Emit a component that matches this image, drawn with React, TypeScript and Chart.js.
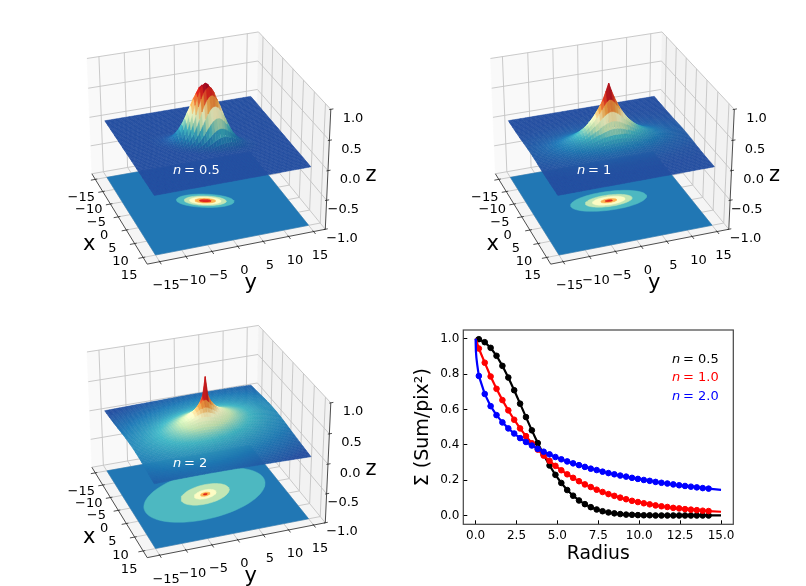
import { useEffect, useRef } from "react";
import { Chart, registerables } from "chart.js";

Chart.register(...registerables);

const FONT = "'DejaVu Sans'";

// radial profiles
const RADIUS = [0.2, 0.56, 0.92, 1.28, 1.64, 2.0, 2.36, 2.72, 3.08, 3.44, 3.8, 4.16, 4.52, 4.88, 5.24, 5.6, 5.96, 6.32, 6.68, 7.04, 7.4, 7.76, 8.12, 8.48, 8.84, 9.2, 9.56, 9.92, 10.28, 10.64, 11.0, 11.36, 11.72, 12.08, 12.44, 12.8, 13.16, 13.52, 13.88, 14.24];
const SIGMA_05 = [0.998, 0.981, 0.949, 0.904, 0.847, 0.781, 0.709, 0.633, 0.557, 0.482, 0.41, 0.344, 0.283, 0.23, 0.184, 0.144, 0.112, 0.085, 0.064, 0.047, 0.034, 0.024, 0.017, 0.012, 0.008, 0.005, 0.004, 0.002, 0.001, 0.001, 0, 0, 0, 0, 0, 0, 0, 0, 0, 0];
const SIGMA_10 = [0.945, 0.865, 0.787, 0.717, 0.653, 0.595, 0.542, 0.493, 0.449, 0.409, 0.373, 0.339, 0.309, 0.281, 0.256, 0.233, 0.213, 0.194, 0.176, 0.161, 0.146, 0.133, 0.121, 0.111, 0.101, 0.092, 0.083, 0.076, 0.069, 0.063, 0.057, 0.052, 0.048, 0.043, 0.04, 0.036, 0.033, 0.03, 0.027, 0.025];
const SIGMA_20 = [0.79, 0.688, 0.619, 0.568, 0.527, 0.493, 0.464, 0.438, 0.416, 0.396, 0.377, 0.361, 0.346, 0.331, 0.318, 0.306, 0.295, 0.285, 0.275, 0.265, 0.257, 0.248, 0.24, 0.233, 0.226, 0.22, 0.213, 0.207, 0.201, 0.196, 0.19, 0.185, 0.181, 0.176, 0.171, 0.167, 0.163, 0.159, 0.155, 0.152];
// the curves start before the first marker and run on past the last one
const CORE_RADIUS = [0, 0.02, 0.05, 0.1];
const CORE_05 = [1, 1, 1, 0.999];
const CORE_10 = [1, 0.995, 0.987, 0.974];
const CORE_20 = [1, 0.93, 0.894, 0.854];
const END_RADIUS = 15;
const END_05 = 0;
const END_10 = 0.021;
const END_20 = 0.145;
// surface corners lie outside the plotted radius range, estimated from the corner colours
const TAIL_RADIUS = [20, 25, 32];
const TAIL_05 = [0, 0, 0];
const TAIL_10 = [0.006, 0.002, 0.001];
const TAIL_20 = [0.107, 0.082, 0.06];

const PROFILE_COLORS = ["#000000", "#ff0000", "#0000ff"];
const LEGEND_TEXT = ["= 0.5", "= 1.0", "= 2.0"];
const LEGEND_Y = [0.88, 0.78, 0.675];
const LEGEND_X = 12.0;
const RADIUS_TICKS = [0, 2.5, 5, 7.5, 10, 12.5, 15];
const SIGMA_TICKS = [0, 0.2, 0.4, 0.6, 0.8, 1];

// 3d panels
const XY_TICKS = [-15, -10, -5, 0, 5, 10, 15];
const Z_TICKS = [-1, -0.5, 0, 0.5, 1];
const PANEL_TEXT = ["= 0.5", "= 1", "= 2"];
const SURFACE_Q = [0.45, 0.455, 0.62];
const SURFACE_PA = [-24, -3, 17];
const SURFACE_VMIN = [0, 0.002, 0.07];
const SURFACE_VMAX = [1, 0.93, 0.85];
const SURFACE_GAMMA = [1, 0.85, 0.75];
const RING_RADII = [
  [5.5, 4.0, 3.0, 1.95, 1.1],
  [7.5, 4.6, 3.2, 1.55, 0.7],
  [13.1, 5.2, 2.35, 1.0, 0.4],
];
const RING_COLORS = ["#4db8c1", "#c3e6b4", "#fdfcc4", "#fdb14f", "#e0271f"];
const FLOOR_COLOR = "#2177b4";
const COLOR_STOPS = [0, 0.12, 0.28, 0.42, 0.55, 0.7, 0.87, 1];
const COLOR_RGB = [
  [37, 79, 160],
  [31, 120, 180],
  [65, 182, 196],
  [199, 233, 180],
  [255, 255, 204],
  [254, 170, 70],
  [232, 38, 31],
  [150, 0, 38],
];

const PANEL_LEFT = [20, 423, 20];
const PANEL_TOP = [0, 0, 293];
const PANEL_NUDGE_X = [0, 0.5, 0];
const PANEL_NUDGE_Y = [0, 0, 0.5];
const PANEL_W = 385;
const PANEL_H = 293;
const ORIGIN_X = 185.2;
const ORIGIN_Y = 143.2;
const SCALE_X = 162.7;
const SCALE_Y = 156;

const LIM = 17.35;
const FLOOR_Z = -1;
const HALF_XY = 0.5714;
const HALF_Z = 0.435;
const DIST = 10;
const EL = (30 * Math.PI) / 180;
const AZ = (-20 * Math.PI) / 180;
const GRID_STEPS = 60;
const SURFACE_HALF = 15;

const n3 = [Math.cos(EL) * Math.cos(AZ), Math.cos(EL) * Math.sin(AZ), Math.sin(EL)];
const u3 = [-Math.sin(AZ), Math.cos(AZ), 0];
const v3 = [-Math.sin(EL) * Math.cos(AZ), -Math.sin(EL) * Math.sin(AZ), Math.cos(EL)];

function project(x: number, y: number, z: number) {
  const c = [(x / LIM) * HALF_XY, (y / LIM) * HALF_XY, z * HALF_Z];
  const depth = c[0] * n3[0] + c[1] * n3[1] + c[2] * n3[2];
  const f = DIST / (DIST - depth);
  return {
    x: f * (c[0] * u3[0] + c[1] * u3[1]),
    y: f * (c[0] * v3[0] + c[1] * v3[1] + c[2] * v3[2]),
    depth,
  };
}

function sigmaAt(rs: number[], vals: number[], r: number) {
  if (r >= rs[rs.length - 1]) return vals[vals.length - 1];
  let i = 0;
  while (rs[i + 1] < r) i++;
  const t = (r - rs[i]) / (rs[i + 1] - rs[i]);
  return vals[i] + t * (vals[i + 1] - vals[i]);
}

function surfaceColor(p: number, z: number, light: number) {
  const raw = Math.max(0, Math.min(1, (z - SURFACE_VMIN[p]) / (SURFACE_VMAX[p] - SURFACE_VMIN[p])));
  const t = Math.pow(raw, SURFACE_GAMMA[p]);
  let i = 0;
  while (i < COLOR_STOPS.length - 2 && COLOR_STOPS[i + 1] < t) i++;
  const k = (t - COLOR_STOPS[i]) / (COLOR_STOPS[i + 1] - COLOR_STOPS[i]);
  const rgb = COLOR_RGB[i].map((c, j) => Math.min(255, Math.round((c + k * (COLOR_RGB[i + 1][j] - c)) * light)));
  return `rgb(${rgb[0]},${rgb[1]},${rgb[2]})`;
}

function polygon(points: { x: number; y: number }[], color: string) {
  const data = [...points, points[0]].map((q) => ({ x: q.x, y: q.y }));
  return { data, showLine: true, fill: "shape", backgroundColor: color, borderColor: color, borderWidth: 0.5, pointRadius: 0 };
}

function segment(a: { x: number; y: number }, b: { x: number; y: number }, color: string, width: number) {
  return { data: [{ x: a.x, y: a.y }, { x: b.x, y: b.y }], showLine: true, fill: false, borderColor: color, borderWidth: width, pointRadius: 0 };
}

function buildPanel(p: number, rs: number[], vals: number[]) {
  const out: any[] = [];
  // back walls and floor of the box
  out.push(polygon([project(-LIM, -LIM, -1), project(-LIM, LIM, -1), project(-LIM, LIM, 1), project(-LIM, -LIM, 1)], "#f9f9f9"));
  out.push(polygon([project(-LIM, LIM, -1), project(LIM, LIM, -1), project(LIM, LIM, 1), project(-LIM, LIM, 1)], "#f2f2f2"));
  out.push(polygon([project(-LIM, -LIM, -1), project(LIM, -LIM, -1), project(LIM, LIM, -1), project(-LIM, LIM, -1)], "#f5f5f5"));

  const grid = "#c4c4c4";
  for (const t of XY_TICKS) {
    out.push(segment(project(t, -LIM, -1), project(t, LIM, -1), grid, 0.9));
    out.push(segment(project(t, LIM, -1), project(t, LIM, 1), grid, 0.9));
    out.push(segment(project(-LIM, t, -1), project(LIM, t, -1), grid, 0.9));
    out.push(segment(project(-LIM, t, -1), project(-LIM, t, 1), grid, 0.9));
  }
  for (const t of Z_TICKS) {
    out.push(segment(project(-LIM, -LIM, t), project(-LIM, LIM, t), grid, 0.9));
    out.push(segment(project(-LIM, LIM, t), project(LIM, LIM, t), grid, 0.9));
  }

  // axis lines and tick marks
  const ink = "#222222";
  out.push(segment(project(-LIM, -LIM, -1), project(LIM, -LIM, -1), ink, 0.8));
  out.push(segment(project(LIM, -LIM, -1), project(LIM, LIM, -1), ink, 0.8));
  out.push(segment(project(LIM, LIM, -1), project(LIM, LIM, 1), ink, 0.8));
  for (const t of XY_TICKS) {
    out.push(segment(project(t, -LIM - 0.9, -1), project(t, -LIM + 0.4, -1), ink, 0.8));
    out.push(segment(project(LIM + 0.9, t, -1), project(LIM - 0.4, t, -1), ink, 0.8));
  }
  for (const t of Z_TICKS) {
    out.push(segment(project(LIM, LIM + 0.5, t), project(LIM, LIM - 0.3, t), ink, 0.8));
  }

  // filled contours on the floor
  const pa = (SURFACE_PA[p] * Math.PI) / 180;
  const major = [-Math.sin(pa), Math.cos(pa)];
  const minor = [Math.cos(pa), Math.sin(pa)];
  const q = SURFACE_Q[p];
  out.push(polygon([project(-15, -15, FLOOR_Z), project(15, -15, FLOOR_Z), project(15, 15, FLOOR_Z), project(-15, 15, FLOOR_Z)], FLOOR_COLOR));
  RING_RADII[p].forEach((radius, i) => {
    const pts = [];
    for (let k = 0; k < 72; k++) {
      const a = (k / 72) * 2 * Math.PI;
      const mx = radius * Math.cos(a);
      const my = radius * q * Math.sin(a);
      pts.push(project(mx * major[0] + my * minor[0], mx * major[1] + my * minor[1], FLOOR_Z));
    }
    out.push(polygon(pts, RING_COLORS[i]));
  });

  // the surface, far facets first
  const step = (2 * SURFACE_HALF) / GRID_STEPS;
  const height = (x: number, y: number) => {
    const a = x * major[0] + y * major[1];
    const b = (x * minor[0] + y * minor[1]) / q;
    return sigmaAt(rs, vals, Math.hypot(a, b));
  };
  const facets: { depth: number; set: any }[] = [];
  for (let i = 0; i < GRID_STEPS; i++) {
    for (let j = 0; j < GRID_STEPS; j++) {
      const x0 = -SURFACE_HALF + i * step;
      const y0 = -SURFACE_HALF + j * step;
      const x1 = x0 + step;
      const y1 = y0 + step;
      const z00 = height(x0, y0);
      const z10 = height(x1, y0);
      const z11 = height(x1, y1);
      const z01 = height(x0, y1);
      const corners = [project(x0, y0, z00), project(x1, y0, z10), project(x1, y1, z11), project(x0, y1, z01)];
      const zMean = (z00 + z10 + z11 + z01) / 4;
      // slope in box units, lit from the -x -y side
      const sx = (((z10 + z11 - z00 - z01) / 2) * HALF_Z) / ((step / LIM) * HALF_XY);
      const sy = (((z01 + z11 - z00 - z10) / 2) * HALF_Z) / ((step / LIM) * HALF_XY);
      const norm = Math.hypot(sx, sy, 1);
      const dot = (sx * 0.577 + sy * 0.577 + 0.577) / norm;
      const light = 1 + 0.15 * (dot - 0.577);
      facets.push({
        depth: corners.reduce((s, c) => s + c.depth, 0) / 4,
        set: polygon(corners, surfaceColor(p, zMean, light)),
      });
    }
  }
  facets.sort((a, b) => a.depth - b.depth);
  for (const f of facets) out.push(f.set);

  // chart.js paints the first dataset last
  return out.reverse();
}

function drawMathLabel(ctx: CanvasRenderingContext2D, x: number, y: number, rest: string, color: string, size: number) {
  ctx.save();
  ctx.fillStyle = color;
  ctx.textAlign = "left";
  ctx.textBaseline = "middle";
  ctx.font = `italic ${size}px ${FONT}`;
  ctx.fillText("n", x, y);
  const w = ctx.measureText("n").width + size * 0.22;
  ctx.font = `${size}px ${FONT}`;
  ctx.fillText(rest, x + w, y);
  ctx.restore();
}

function tickText(v: any) {
  return String(v).replace("-", "\u2212");
}

function panelTextPlugin(p: number) {
  return {
    id: "panelText",
    afterDraw(chart: any) {
      const { ctx } = chart;
      const sx = chart.scales.x;
      const sy = chart.scales.y;
      const at = (q: { x: number; y: number }) => [sx.getPixelForValue(q.x), sy.getPixelForValue(q.y)];
      ctx.save();
      ctx.fillStyle = "#000";
      ctx.font = `13px ${FONT}`;
      ctx.textBaseline = "middle";
      ctx.textAlign = "center";
      for (const t of XY_TICKS) {
        const [ax, ay] = at(project(t, -LIM, -1));
        ctx.fillText(tickText(t), ax - 14, ay + 18.5);
        const [bx, by] = at(project(LIM, t, -1));
        ctx.fillText(tickText(t), bx + 6.5, by + 24);
      }
      ctx.textAlign = "right";
      for (const t of Z_TICKS) {
        const [zx, zy] = at(project(LIM, LIM, t));
        ctx.fillText(tickText(t.toFixed(1)), zx + 32.5, zy + 9);
      }
      ctx.textAlign = "center";
      ctx.font = `21px ${FONT}`;
      const ox = PANEL_NUDGE_X[p];
      const oy = PANEL_NUDGE_Y[p];
      ctx.fillText("x", 69.3 + ox, 244.3 + oy);
      ctx.fillText("y", 230.7 + ox, 283.3 + oy);
      ctx.fillText("z", 351 + ox, 175.7 + oy);
      ctx.restore();
      const textX = [153, 154, 153][p];
      const textY = [170.7, 170.7, 171][p];
      drawMathLabel(ctx, textX, textY, PANEL_TEXT[p], "#ffffff", 13);
    },
  };
}

function Surface3D({ p, rs, vals }: { p: number; rs: number[]; vals: number[] }) {
  const ref = useRef<HTMLCanvasElement | null>(null);

  useEffect(() => {
    if (!ref.current) return;
    const ox = ORIGIN_X + PANEL_NUDGE_X[p];
    const oy = ORIGIN_Y + PANEL_NUDGE_Y[p];
    const chart = new Chart(ref.current, {
      type: "scatter",
      data: { datasets: buildPanel(p, rs, vals) },
      options: {
        animation: false,
        responsive: false,
        events: [],
        elements: { line: { tension: 0, borderJoinStyle: "bevel" } },
        layout: { padding: 0 },
        plugins: { legend: { display: false }, tooltip: { enabled: false } },
        scales: {
          x: { type: "linear", display: false, min: -ox / SCALE_X, max: (PANEL_W - ox) / SCALE_X },
          y: { type: "linear", display: false, min: (oy - PANEL_H) / SCALE_Y, max: oy / SCALE_Y },
        },
      },
      plugins: [panelTextPlugin(p)],
    } as any);
    return () => chart.destroy();
  }, [p, rs, vals]);

  return (
    <canvas
      ref={ref}
      width={PANEL_W}
      height={PANEL_H}
      style={{ position: "absolute", left: PANEL_LEFT[p], top: PANEL_TOP[p], filter: "blur(0.35px)" }}
    />
  );
}

const profileText = {
  id: "profileText",
  afterDraw(chart: any) {
    const { ctx, chartArea } = chart;
    ctx.save();
    ctx.strokeStyle = "#444444";
    ctx.lineWidth = 1.2;
    ctx.strokeRect(chartArea.left, chartArea.top, chartArea.width, chartArea.height);
    ctx.restore();
    LEGEND_TEXT.forEach((text, i) => {
      const x = chart.scales.x.getPixelForValue(LEGEND_X);
      const y = chart.scales.y.getPixelForValue(LEGEND_Y[i]);
      drawMathLabel(ctx, x, y, text, PROFILE_COLORS[i], 13);
    });
  },
};

function RadialProfile() {
  const ref = useRef<HTMLCanvasElement | null>(null);

  useEffect(() => {
    if (!ref.current) return;
    const series = [
      { values: SIGMA_05, core: CORE_05, end: END_05 },
      { values: SIGMA_10, core: CORE_10, end: END_10 },
      { values: SIGMA_20, core: CORE_20, end: END_20 },
    ];
    const datasets: any[] = [];
    series.forEach((s, i) => {
      const curve = [
        ...CORE_RADIUS.map((r, k) => ({ x: r, y: s.core[k] })),
        ...RADIUS.map((r, k) => ({ x: r, y: s.values[k] })),
        { x: END_RADIUS, y: s.end },
      ];
      datasets.push({ data: curve, showLine: true, borderColor: PROFILE_COLORS[i], borderWidth: 2.2, pointRadius: 0, tension: 0 });
      datasets.push({
        data: RADIUS.map((r, k) => ({ x: r, y: s.values[k] })),
        showLine: false,
        backgroundColor: PROFILE_COLORS[i],
        borderColor: PROFILE_COLORS[i],
        pointRadius: 2.8,
      });
    });
    const chart = new Chart(ref.current, {
      type: "scatter",
      data: { datasets: datasets.reverse() },
      options: {
        animation: false,
        responsive: false,
        events: [],
        layout: { padding: { top: 10, right: 16.7 } },
        plugins: { legend: { display: false }, tooltip: { enabled: false } },
        scales: {
          x: {
            type: "linear",
            min: -0.75,
            max: 15.75,
            afterBuildTicks: (scale: any) => {
              scale.ticks = RADIUS_TICKS.map((value) => ({ value }));
            },
            afterFit: (scale: any) => {
              scale.height = 61.7;
              scale.paddingLeft = 0;
              scale.paddingRight = 0;
            },
            grid: { drawOnChartArea: false, tickLength: -4, tickColor: "#000" },
            border: { display: false },
            ticks: { color: "#000", padding: 8, maxRotation: 0, autoSkip: false, font: { family: FONT, size: 12 }, callback: (v: any) => Number(v).toFixed(1) },
            title: { display: true, text: "Radius", color: "#000", font: { family: FONT, size: 18.8 }, padding: { top: 0, bottom: 21 } },
          },
          y: {
            type: "linear",
            min: -0.05,
            max: 1.05,
            afterBuildTicks: (scale: any) => {
              scale.ticks = SIGMA_TICKS.map((value) => ({ value }));
            },
            afterFit: (scale: any) => {
              scale.width = 58.3;
              scale.paddingTop = 0;
              scale.paddingBottom = 0;
            },
            grid: { drawOnChartArea: false, tickLength: -4, tickColor: "#000" },
            border: { display: false },
            ticks: { color: "#000", padding: 8, font: { family: FONT, size: 12 }, callback: (v: any) => Number(v).toFixed(1) },
            title: { display: true, text: "\u03a3 (Sum/pix\u00b2)", color: "#000", font: { family: FONT, size: 19 }, padding: { top: 7, bottom: 0 } },
          },
        },
      },
      plugins: [profileText],
    } as any);
    return () => chart.destroy();
  }, []);

  return (
    <canvas
      ref={ref}
      width={345}
      height={266}
      style={{ position: "absolute", left: 405, top: 320, filter: "blur(0.35px)" }}
    />
  );
}

const PROFILE_RADII = [...CORE_RADIUS, ...RADIUS, END_RADIUS, ...TAIL_RADIUS];
const PROFILE_05 = [...CORE_05, ...SIGMA_05, END_05, ...TAIL_05];
const PROFILE_10 = [...CORE_10, ...SIGMA_10, END_10, ...TAIL_10];
const PROFILE_20 = [...CORE_20, ...SIGMA_20, END_20, ...TAIL_20];

export default function App() {
  return (
    <div style={{ position: "absolute", left: 0, top: 0, width: 806, height: 586, overflow: "hidden", background: "#fff" }}>
      <Surface3D p={0} rs={PROFILE_RADII} vals={PROFILE_05} />
      <Surface3D p={1} rs={PROFILE_RADII} vals={PROFILE_10} />
      <Surface3D p={2} rs={PROFILE_RADII} vals={PROFILE_20} />
      <RadialProfile />
    </div>
  );
}
